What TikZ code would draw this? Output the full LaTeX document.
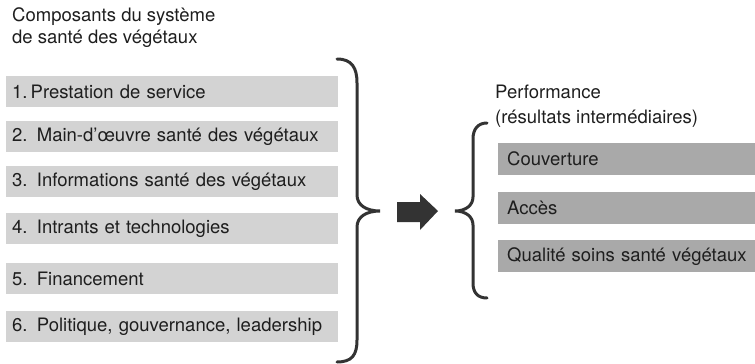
\documentclass[tikz,border=0pt]{standalone}
\usepackage{fontspec}
\setmainfont{TeX Gyre Heros}
\definecolor{txt}{HTML}{1E1E1E}
\definecolor{lfill}{HTML}{D3D3D3}
\definecolor{rfill}{HTML}{A9A9A9}
\definecolor{ink}{HTML}{333333}
\tikzset{
  every node/.style={font=\fontsize{18.5}{22}\selectfont, text=txt},
  lbox/.style={anchor=north west, fill=lfill, text width=320pt, inner xsep=6pt, inner ysep=0pt, minimum height=31pt, align=left},
  rbox/.style={anchor=north west, fill=rfill, text width=250pt, inner xsep=9pt, inner ysep=0pt, minimum height=32pt, align=left},
  brace/.style={draw=ink, line width=3pt, line cap=round},
  title/.style={anchor=base west, inner sep=0pt}
}
\begin{document}
\begin{tikzpicture}[x=1pt,y=-1pt]
\useasboundingbox (0,0) rectangle (755,364);
% titles
\node[title] (t1) at (12,21) {Composants du système};
\node[title] (t1b) at (12,43) {de santé des végétaux};
\node[title] (t2) at (495,98) {Performance};
\node[title] (t2b) at (495,123) {(résultats intermédiaires)};
% left boxes
\node[lbox] (c1) at (6,76)  {1.\,Prestation de service};
\node[lbox] (c2) at (6,121) {2. Main-d’œuvre santé des végétaux};
\node[lbox] (c3) at (6,166) {3. Informations santé des végétaux};
\node[lbox] (c4) at (6,213) {4. Intrants et technologies};
\node[lbox] (c5) at (6,263) {5. Financement};
\node[lbox] (c6) at (6,311) {6. Politique, gouvernance, leadership};
% right boxes
\node[rbox] (r1) at (498,143) {Couverture};
\node[rbox] (r2) at (498,192) {Accès};
\node[rbox] (r3) at (498,240) {Qualité soins santé végétaux};
% braces
\coordinate (ltip) at (380,211);
\coordinate (rtip) at (455,211);
\draw[brace] (337,59) .. controls (352,59) and (357,68) .. (357,83) -- (357,195)
  .. controls (357,205) and (366,211) .. (ltip)
  .. controls (366,211) and (357,217) .. (357,227) -- (357,340)
  .. controls (357,355) and (352,362) .. (337,362);
\draw[brace] (487,123) .. controls (478,123) and (473,129) .. (473,139) -- (473,197)
  .. controls (473,205) and (466,211) .. (rtip)
  .. controls (466,211) and (473,217) .. (473,225) -- (473,283)
  .. controls (473,293) and (478,298) .. (487,298);
% block arrow
\fill[ink] ([xshift=17pt,yshift=-11pt]ltip) -- ([xshift=40pt,yshift=-11pt]ltip) -- ([xshift=40pt,yshift=-19pt]ltip)
  -- ([xshift=58pt]ltip) -- ([xshift=40pt,yshift=17pt]ltip) -- ([xshift=40pt,yshift=9pt]ltip)
  -- ([xshift=17pt,yshift=9pt]ltip) -- cycle;
\end{tikzpicture}
\end{document}
